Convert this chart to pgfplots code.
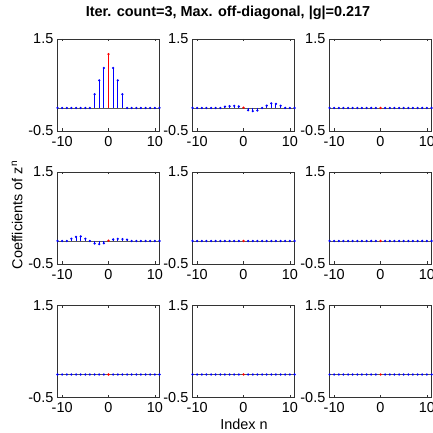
\documentclass[border=0pt]{standalone}
\usepackage{pgfplots}
\pgfplotsset{compat=1.18}
\usepackage{pgfplotstable}
\usepackage{fontspec}
\setmainfont{Liberation Sans}
\definecolor{axgray}{gray}{0.2}

\pgfplotstableread{
n y
-11 0
-10 0
-9 0
-8 0
-7 0
-6 0
-5 0
-4 0
-3 0.30
-2 0.60
-1 0.87
1 0.87
2 0.60
3 0.30
4 0
5 0
6 0
7 0
8 0
9 0
10 0
11 0
}\dataA
\pgfplotstableread{
n y
-11 0
-10 0
-9 0
-8 0
-7 0
-6 0
-5 0
-4 0.03
-3 0.04
-2 0.045
-1 0.035
1 -0.05
2 -0.07
3 -0.055
4 0
5 0.05
6 0.10
7 0.09
8 0.05
9 0
10 0
11 0
}\dataB
\pgfplotstableread{
n y
-11 0
-10 0
-9 0
-8 0.05
-7 0.09
-6 0.10
-5 0.05
-4 0
-3 -0.055
-2 -0.07
-1 -0.05
1 0.035
2 0.045
3 0.04
4 0.03
5 0
6 0
7 0
8 0
9 0
10 0
11 0
}\dataD
\pgfplotstableread{
n y
-11 0
-10 0
-9 0
-8 0
-7 0
-6 0
-5 0
-4 0
-3 0
-2 0
-1 0
1 0
2 0
3 0
4 0
5 0
6 0
7 0
8 0
9 0
10 0
11 0
}\dataZ

\pgfplotsset{
  panel/.style={
    scale only axis, width=102bp, height=92bp,
    anchor=south west,
    xmin=-11, xmax=11, ymin=-0.5, ymax=1.5,
    xtick={-10,0,10}, xticklabels={-10,0,10},
    ytick={-0.5,1.5}, yticklabels={-0.5,1.5},
    tick align=inside, major tick length=2.5bp,
    axis line style={draw=axgray, line width=0.8bp},
    tick style={draw=axgray, line width=0.6bp},
    ticklabel style={font=\fontsize{14.5}{14.5}\selectfont, text=black, inner sep=1bp},
    xticklabel style={yshift=-4bp},
    yticklabel style={xshift=-3bp},
  },
  base/.style={draw=black!65, line width=0.9bp, forget plot},
  bstem/.style={blue, ycomb, line width=1bp, mark=*, mark size=0.55bp, mark options={fill=blue, draw=blue}},
  rstem/.style={red, ycomb, line width=1bp, mark=*, mark size=0.55bp, mark options={fill=red, draw=red}},
}

\newcommand{\panel}[4]{%
\begin{axis}[panel, at={(#1,#2)}]
\addplot[base] coordinates {(-11,0) (11,0)};
\addplot[bstem] table[x=n,y=y] {#3};
\addplot[rstem] coordinates {(0,#4)};
\end{axis}}

\begin{document}
\begin{tikzpicture}[x=1bp,y=1bp]
\panel{57.5bp}{302bp}{\dataA}{1.17}
\panel{192.5bp}{302bp}{\dataB}{0.006}
\panel{329.5bp}{302bp}{\dataZ}{0}
\panel{57.5bp}{169bp}{\dataD}{0.006}
\panel{192.5bp}{169bp}{\dataZ}{0}
\panel{329.5bp}{169bp}{\dataZ}{0}
\panel{57.5bp}{35.5bp}{\dataZ}{0}
\panel{192.5bp}{35.5bp}{\dataZ}{0}
\panel{329.5bp}{35.5bp}{\dataZ}{0}
\node[font=\fontsize{14.5}{14.5}\selectfont\bfseries] at (228,420) {Iter. count=3, Max. off-diagonal, |g|=0.217};
\node[font=\fontsize{14.5}{14.5}\selectfont] at (244,9) {Index n};
\node[font=\fontsize{14.5}{14.5}\selectfont, rotate=90] at (17,218) {Coefficients of z\textsuperscript{n}};
\pgfresetboundingbox
\path[use as bounding box] (0,0) rectangle (433,433);
\end{tikzpicture}
\end{document}
